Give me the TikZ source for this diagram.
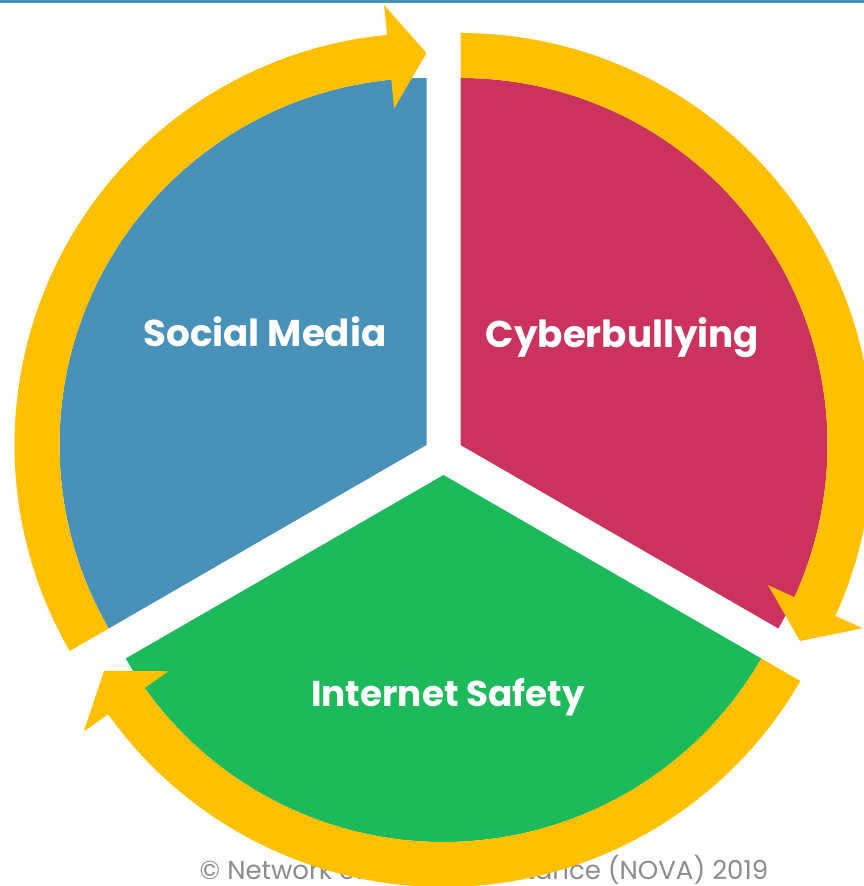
\documentclass[tikz,border=0pt]{standalone}
\usepackage{fontspec}
\setmainfont{Poppins}
\usepackage{tikz}
\usetikzlibrary{positioning}

\definecolor{mediablue}{HTML}{4891B8}
\definecolor{bullyred}{HTML}{CC325E}
\definecolor{safegreen}{HTML}{1DBA5C}
\definecolor{ringgold}{HTML}{FFC000}

\begin{document}
\begin{tikzpicture}[
        sector/.style={draw=none},
        ring/.style={fill=ringgold, draw=none},
        tag/.style={text=white, font=\bfseries\fontsize{10.6}{12}\selectfont, anchor=base, inner sep=0pt},
        note/.style={text=black!45, font=\fontsize{7.4}{9}\selectfont, anchor=base, inner sep=0pt}
      ]
        \useasboundingbox (0,0) rectangle (8.64,8.86);
        \clip (0,0) rectangle (8.64,8.86);

        % thin rule along the top edge
        \fill[mediablue] (0,8.83) rectangle (8.64,8.86);

        \coordinate (blueapex) at (4.265,4.41);
        \coordinate (redapex) at (4.605,4.41);
        \coordinate (greenapex) at (4.435,4.11);

        \node (copyright) [note] at (4.84,0.06) {\textcopyright{} Network of Victim Assistance (NOVA) 2019};

        \fill[sector, mediablue] (blueapex) -- ++(90:3.67) arc[start angle=90, end angle=210, radius=3.67] -- cycle;
        \fill[sector, bullyred] (redapex) -- ++(90:3.67) arc[start angle=90, end angle=-30, radius=3.67] -- cycle;
        \fill[sector, safegreen] (greenapex) -- ++(-30:3.67) arc[start angle=-30, end angle=-150, radius=3.67] -- cycle;

        % arrows round the cycle
        \fill[ring, shift={(blueapex)}] (210:4.12) arc[start angle=210, end angle=95.5, radius=4.12]
            -- (95.5:4.42) -- (90:3.92) -- (95.5:3.38) -- (95.5:3.67)
            arc[start angle=95.5, end angle=210, radius=3.67] -- cycle;
        \fill[ring, shift={(redapex)}] (90:4.12) arc[start angle=90, end angle=-24.5, radius=4.12]
            -- (-24.5:4.42) -- (-30:3.92) -- (-24.5:3.38) -- (-24.5:3.67)
            arc[start angle=-24.5, end angle=90, radius=3.67] -- cycle;
        \fill[ring, shift={(greenapex)}] (-30:4.12) arc[start angle=-30, end angle=-144.5, radius=4.12]
            -- (-144.5:4.42) -- (-150:3.92) -- (-144.5:3.38) -- (-144.5:3.67)
            arc[start angle=-144.5, end angle=-30, radius=3.67] -- cycle;

        \node (social) [tag] at (2.65,5.39) {Social Media};
        \node (cyber) [tag] at (6.225,5.38) {Cyberbullying};
        \node (safety) [tag, font=\bfseries\fontsize{10.2}{12}\selectfont] at (4.48,1.79) {Internet Safety};
      \end{tikzpicture}
\end{document}
